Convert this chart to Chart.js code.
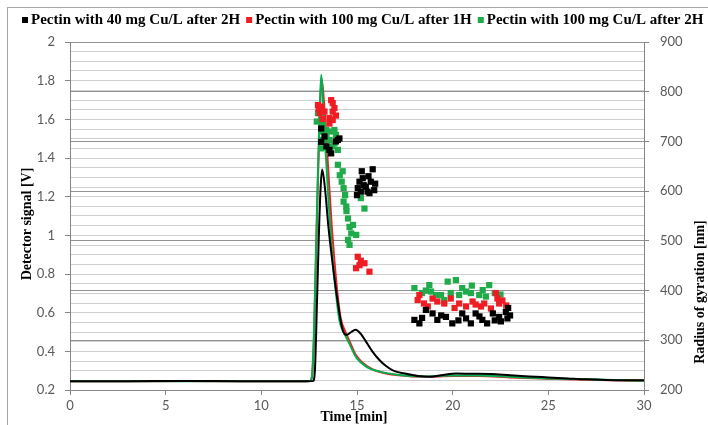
<!DOCTYPE html>
<html>
<head>
<meta charset="utf-8">
<script src="https://cdn.jsdelivr.net/npm/chart.js@4.4.1/dist/chart.umd.min.js"></script>
<style>
html,body{margin:0;padding:0;background:#fff;}
#wrap{width:708px;height:425px;position:relative;}
</style>
</head>
<body>
<div id="wrap"><canvas id="c" width="708" height="425"></canvas></div>
<script>
// ---------- DATA ----------
const seriesNames = ['Pectin with 40 mg Cu/L after 2H', 'Pectin with 100 mg Cu/L after 1H', 'Pectin with 100 mg Cu/L after 2H'];
const xTicks = [0, 5, 10, 15, 20, 25, 30];
const leftTicks = [0.2, 0.4, 0.6, 0.8, 1, 1.2, 1.4, 1.6, 1.8, 2];
const rightTicks = [200, 300, 400, 500, 600, 700, 800, 900];

// Detector signal lines (time [min], signal [V])
const lineBlackT = [0, 3, 6, 9, 12, 12.7, 12.8, 12.9, 13.0, 13.1, 13.18, 13.35, 13.5, 13.73, 14.0, 14.25, 14.45, 14.7, 14.92, 15.2, 15.47, 15.8, 16.17, 16.5, 16.9, 17.5, 18.2, 18.8, 19.5, 20.2, 21, 22, 23, 24, 25, 26, 27, 28, 30];
const lineBlackV = [0.245, 0.245, 0.247, 0.245, 0.245, 0.246, 0.30, 0.62, 0.98, 1.25, 1.34, 1.22, 1.05, 0.85, 0.65, 0.51, 0.485, 0.50, 0.512, 0.49, 0.45, 0.40, 0.355, 0.325, 0.30, 0.285, 0.272, 0.268, 0.278, 0.285, 0.284, 0.283, 0.276, 0.27, 0.265, 0.26, 0.255, 0.252, 0.25];
const lineRedT = [0, 3, 6, 9, 12, 12.55, 12.65, 12.75, 12.85, 12.95, 13.05, 13.15, 13.25, 13.4, 13.55, 13.7, 13.82, 14.0, 14.15, 14.4, 14.6, 14.95, 15.5, 16.2, 17.2, 18.6, 20, 21.4, 23, 25, 27, 30];
const lineRedV = [0.245, 0.245, 0.246, 0.245, 0.245, 0.246, 0.27, 0.46, 0.85, 1.25, 1.6, 1.81, 1.72, 1.5, 1.25, 1.02, 0.87, 0.68, 0.57, 0.50, 0.455, 0.38, 0.325, 0.293, 0.276, 0.268, 0.272, 0.272, 0.265, 0.258, 0.253, 0.248];
const lineGreenT = [0, 3, 6, 9, 12, 12.55, 12.65, 12.75, 12.85, 12.95, 13.05, 13.13, 13.22, 13.35, 13.5, 13.6, 13.73, 13.9, 14.08, 14.35, 14.6, 14.95, 15.5, 16.2, 17.2, 18.6, 20, 21.4, 23, 25, 27, 30];
const lineGreenV = [0.245, 0.245, 0.245, 0.245, 0.245, 0.246, 0.28, 0.50, 0.90, 1.30, 1.65, 1.83, 1.70, 1.45, 1.20, 1.05, 0.87, 0.70, 0.56, 0.49, 0.44, 0.37, 0.32, 0.295, 0.278, 0.27, 0.275, 0.275, 0.268, 0.26, 0.255, 0.248];

// Radius of gyration points (time [min], Rg [nm])
const ptsBlackT = [13.13, 13.13, 13.3, 13.56, 13.65, 13.9, 14.0, 14.08, 13.4,
  15.82, 15.3, 15.04, 15.2, 15.46, 15.72, 15.9, 15.55, 15.13, 15.6, 15.35, 15.0, 15.65, 15.95, 15.25,
  18.0, 18.26, 18.6, 18.95, 19.2, 19.65, 19.98, 20.5, 20.7, 20.95, 21.2, 21.55, 21.8, 22.1, 22.43, 22.78, 22.86, 22.52, 18.4, 19.4, 20.3, 21.4, 22.2, 23.0, 22.9];
const ptsBlackR = [726, 699, 710, 683, 676, 700, 703, 706, 690,
  644, 626, 606, 599, 609, 619, 602, 599, 619, 630, 612, 592, 596, 615, 640,
  341, 334, 361, 354, 341, 347, 334, 354, 344, 334, 354, 341, 334, 354, 347, 357, 344, 338, 345, 350, 340, 348, 340, 350, 365];
const ptsRedT = [12.96, 13.13, 13.05, 13.3, 13.65, 13.73, 13.73, 13.56, 13.73, 13.56, 13.82, 13.0, 13.2, 13.9,
  15.04, 15.13, 15.39, 14.95, 15.65, 15.2,
  18.26, 18.17, 18.5, 18.95, 19.56, 19.9, 20.34, 20.7, 21.04, 21.48, 21.65, 22.0, 22.34, 22.43, 22.26, 18.7, 19.2, 20.1, 21.2, 22.6, 22.8];
const ptsRedR = [773, 770, 757, 760, 783, 777, 760, 747, 743, 736, 767, 765, 745, 752,
  468, 451, 455, 445, 438, 460,
  391, 381, 374, 384, 374, 384, 374, 368, 378, 368, 374, 364, 384, 374, 395, 368, 378, 365, 372, 380, 370];
const ptsGreenT = [12.96, 13.13, 13.22, 13.13, 13.39, 13.65, 13.82, 13.9, 13.22, 13.56, 13.13, 13.82, 14.0, 12.9, 13.4, 13.7,
  14.0, 14.1, 14.2, 14.3, 14.38, 14.3, 14.44, 14.53, 14.61, 14.79, 14.7, 14.53, 14.61, 14.96, 15.2, 15.39, 14.45, 14.25,
  18.0, 18.78, 18.87, 19.13, 19.39, 19.74, 20.17, 19.9, 20.34, 20.7, 20.95, 21.39, 21.74, 21.91, 21.57, 19.56, 18.4, 20.5, 21.0, 22.2, 22.5, 18.6];
const ptsGreenR = [757, 743, 736, 720, 723, 720, 723, 713, 703, 703, 686, 696, 683, 740, 710, 690,
  653, 632, 619, 606, 592, 579, 569, 545, 528, 532, 515, 502, 492, 512, 586, 565, 560, 640,
  405, 411, 398, 391, 391, 418, 421, 395, 391, 398, 395, 391, 388, 411, 401, 381, 395, 405, 410, 395, 392, 400];

// ---------- STYLE ----------
const C_BLACK = '#000000', C_RED = '#ee1d23', C_GREEN = '#00b050', C_GREEN_PT = '#1fab4a';
const toXY = (xs, ys) => xs.map((x, i) => ({x: x, y: ys[i]}));
const tickFont = {family: 'Lato', size: 13};
const tickColor = '#595959';
const axisColor = '#868686';
const isMajor = v => Math.abs(v / 0.2 - Math.round(v / 0.2)) < 1e-6;

const scatterDs = (label, xs, ys, color) => ({
  type: 'scatter', label: label, data: toXY(xs, ys), yAxisID: 'y1',
  pointStyle: 'rect', pointRadius: 4.4, pointHoverRadius: 4.4,
  backgroundColor: color, borderColor: color, borderWidth: 0, showLine: false
});
const lineDs = (label, xs, ys, color) => ({
  type: 'line', label: label, data: toXY(xs, ys), yAxisID: 'y',
  borderColor: color, backgroundColor: color, borderWidth: 2, pointRadius: 0,
  cubicInterpolationMode: 'monotone', fill: false
});

const deco = {
  id: 'deco',
  beforeDraw(chart) {
    const c = chart.ctx;
    c.save();
    c.fillStyle = '#fff';
    c.fillRect(0, 0, chart.width, chart.height);
    c.strokeStyle = '#a6a6a6';
    c.lineWidth = 1;
    c.strokeRect(7.5, 7.5, 760, 500);
    c.restore();
  },
  afterDraw(chart) {
    const c = chart.ctx;
    c.save();
    // legend
    c.font = 'bold 15px "Liberation Serif"';
    c.textBaseline = 'middle';
    c.textAlign = 'left';
    const cols = [C_BLACK, C_RED, C_GREEN_PT];
    let x = 22;
    seriesNames.forEach((n, i) => {
      c.fillStyle = cols[i];
      c.fillRect(x, 17, 6, 6);
      c.fillStyle = '#000';
      c.fillText(n, x + 9, 20.5);
      x += 9 + c.measureText(n).width + 6;
    });
    // axis titles
    c.font = 'bold 14px "Liberation Serif"';
    c.fillStyle = '#000';
    c.textAlign = 'center';
    c.fillText('Time [min]', 354, 417);
    c.save();
    c.translate(27, 224);
    c.rotate(-Math.PI / 2);
    c.fillText('Detector signal [V]', 0, 0);
    c.restore();
    c.save();
    c.translate(700, 292);
    c.rotate(-Math.PI / 2);
    c.fillText('Radius of gyration [nm]', 0, 0);
    c.restore();
    c.restore();
  }
};

new Chart(document.getElementById('c'), {
  data: {
    datasets: [
      scatterDs(seriesNames[0], ptsBlackT, ptsBlackR, C_BLACK),
      scatterDs(seriesNames[1], ptsRedT, ptsRedR, C_RED),
      scatterDs(seriesNames[2], ptsGreenT, ptsGreenR, C_GREEN_PT),
      lineDs(seriesNames[0], lineBlackT, lineBlackV, C_BLACK),
      lineDs(seriesNames[2], lineGreenT, lineGreenV, C_GREEN),
      lineDs(seriesNames[1], lineRedT, lineRedV, C_RED)
    ]
  },
  options: {
    responsive: false,
    animation: false,
    events: [],
    layout: {padding: {top: 42, left: 0, right: 0, bottom: 0}},
    plugins: {legend: {display: false}, tooltip: {enabled: false}, title: {display: false}},
    scales: {
      x: {
        type: 'linear', position: 'bottom',
        min: xTicks[0], max: xTicks[xTicks.length - 1],
        afterBuildTicks: s => { s.ticks = xTicks.map(v => ({value: v})); },
        afterFit: s => { s.height = 35; },
        ticks: {color: tickColor, font: tickFont, padding: 3, maxRotation: 0, autoSkip: false},
        grid: {drawOnChartArea: false, tickLength: 5, tickColor: axisColor, color: axisColor},
        border: {color: axisColor}
      },
      y: {
        type: 'linear', position: 'left',
        min: leftTicks[0], max: leftTicks[leftTicks.length - 1],
        ticks: {
          stepSize: 0.05, autoSkip: false, color: tickColor, font: tickFont, padding: 10,
          callback: v => isMajor(v) ? String(+v.toFixed(1)) : ''
        },
        afterFit: s => { s.width = 70; },
        grid: {
          color: '#cfcfcf', lineWidth: 1, tickLength: 5,
          tickColor: ctx => (ctx.tick && isMajor(ctx.tick.value)) ? axisColor : 'rgba(0,0,0,0)'
        },
        border: {color: axisColor}
      },
      y1: {
        type: 'linear', position: 'right',
        min: rightTicks[0], max: rightTicks[rightTicks.length - 1],
        afterBuildTicks: s => { s.ticks = rightTicks.map(v => ({value: v})); },
        afterFit: s => { s.width = 64; },
        ticks: {color: tickColor, font: tickFont, padding: 11, autoSkip: false},
        grid: {color: '#939393', lineWidth: 1, tickLength: 5, tickColor: axisColor},
        border: {color: axisColor}
      }
    }
  },
  plugins: [deco]
});
</script>
</body>
</html>
